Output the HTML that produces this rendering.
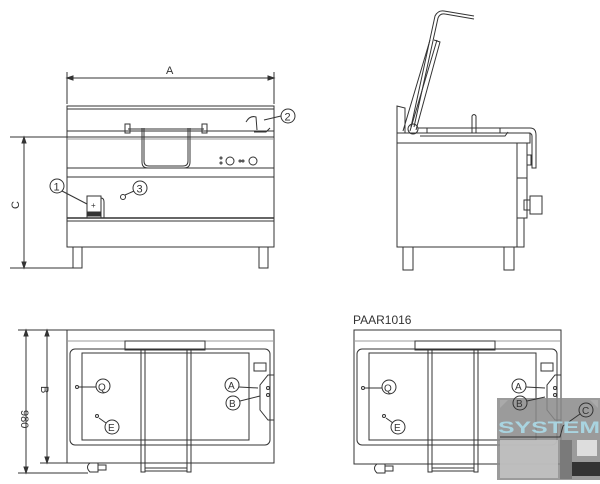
<!DOCTYPE html>
<html><head><meta charset="utf-8"><style>
html,body{margin:0;padding:0;background:#fff;}
svg{display:block;}
text{font-family:"Liberation Sans",sans-serif;fill:#333;}
</style></head><body>
<svg width="600" height="484" viewBox="0 0 600 484" xmlns="http://www.w3.org/2000/svg">
<g fill="none" stroke="#333" stroke-width="1">
<!-- FRONT VIEW -->
<line x1="67" y1="72" x2="67" y2="104"/><line x1="274" y1="72" x2="274" y2="104"/>
<line x1="67" y1="78" x2="274" y2="78"/>
<path d="M67 78 l6 -2 v4z M274 78 l-6 -2 v4z" fill="#333"/>
<rect x="67" y="106" width="207" height="141"/>
<line x1="67" y1="109" x2="274" y2="109"/>
<line x1="67" y1="131" x2="274" y2="131"/>
<line x1="67" y1="137" x2="274" y2="137"/>
<line x1="82" y1="131" x2="250" y2="131"/>
<line x1="67" y1="139" x2="274" y2="139" stroke="#999"/>
<line x1="67" y1="168" x2="274" y2="168"/>
<line x1="67" y1="177" x2="274" y2="177"/>
<line x1="67" y1="218" x2="274" y2="218" stroke-width="1.5"/>
<line x1="67" y1="221" x2="274" y2="221"/>
<rect x="125" y="124" width="5" height="9"/><rect x="202" y="124" width="5" height="9"/>
<line x1="128" y1="129" x2="204" y2="129"/>
<path d="M142 128 V162 Q142 168 148 168 H184 Q190 168 190 162 V128"/>
<path d="M144 128 V161 Q144 166 149 166 H183 Q188 166 188 161 V128"/>
<circle cx="230" cy="161" r="4"/><circle cx="253" cy="161" r="4"/>
<circle cx="240" cy="161" r="1"/><circle cx="243" cy="161" r="1"/>
<circle cx="221" cy="158" r="1"/><circle cx="221" cy="163" r="1"/>
<path d="M246 122 Q250 115 256 117 L257 130"/>
<path d="M254 132 h12 l4 -4" />
<line x1="264" y1="120" x2="281" y2="116"/>
<circle cx="288" cy="116" r="7"/>
<text x="284.5" y="120.5" font-size="11" stroke="none">2</text>
<circle cx="57" cy="186" r="7"/>
<text x="53.5" y="190.5" font-size="11" stroke="none">1</text>
<line x1="62" y1="191" x2="87" y2="204"/>
<rect x="87" y="196" width="14" height="22"/>
<rect x="88" y="212" width="12" height="4" fill="#333"/>
<path d="M101 198 q3 0 3 4 v16"/>
<text x="91" y="208" font-size="8" stroke="none">+</text>
<circle cx="123" cy="197" r="2.5"/>
<line x1="125" y1="195" x2="134" y2="191"/>
<circle cx="140" cy="188" r="7"/>
<text x="136.5" y="192.5" font-size="11" stroke="none">3</text>
<rect x="73" y="247" width="9" height="21"/><rect x="259" y="247" width="9" height="21"/>
<line x1="10" y1="137" x2="67" y2="137"/><line x1="10" y1="268" x2="73" y2="268"/>
<line x1="24" y1="137" x2="24" y2="268"/>
<path d="M24 137 l-2 6 h4z M24 268 l-2 -6 h4z" fill="#333"/>
<text x="0" y="0" font-size="11" stroke="none" transform="translate(19,209) rotate(-90)">C</text>
<text x="166" y="74" font-size="11" stroke="none">A</text>

<!-- SIDE VIEW -->
<rect x="397" y="143" width="120" height="104"/>
<rect x="397" y="133" width="133" height="10"/>
<path d="M397 133 V106 L405 108 V133"/>
<path d="M403 131 L430 40 M410 131 L437 40 M434 40 L440 42 L416 130"/>
<path d="M411 127 L435 16 Q438 10 444 11 L474 16"/>
<path d="M414 127 L438 18 Q440 13 445 14 L474 19"/>
<circle cx="413" cy="129" r="5"/>
<path d="M418 128 H530 Q536 128 536 135 V168 H532 V136 Q532 133 528 133"/>
<path d="M420 136 H505 L508 132"/>
<line x1="427" y1="133" x2="427" y2="128"/><line x1="500" y1="133" x2="500" y2="128"/>
<path d="M472 133 V116 q2 -3 4 0 V133"/>
<rect x="517" y="143" width="10" height="35"/>
<rect x="517" y="178" width="10" height="40"/>
<rect x="517" y="218" width="7" height="29"/>
<rect x="527" y="155" width="4" height="10"/>
<rect x="530" y="196" width="12" height="18"/><rect x="524" y="200" width="6" height="10"/>
<rect x="403" y="247" width="10" height="23"/><rect x="504" y="247" width="10" height="23"/>

<!-- TOP VIEW LEFT -->
<rect x="67" y="330" width="207" height="133"/>
<line x1="67" y1="341" x2="274" y2="341" stroke="#999"/>
<rect x="70" y="349" width="200" height="96" rx="5"/>
<rect x="82" y="353" width="167" height="87"/>
<rect x="125" y="341" width="80" height="9"/>
<rect x="141" y="350" width="4" height="122"/><rect x="187" y="350" width="4" height="122"/>
<line x1="145" y1="468" x2="187" y2="468"/><line x1="145" y1="471" x2="187" y2="471"/>
<path d="M274 375 h-6 l-8 10 v25 l8 10 h6"/>
<rect x="254" y="363" width="12" height="8"/>
<circle cx="77" cy="387" r="1.5"/><line x1="79" y1="387" x2="96" y2="387"/>
<circle cx="103" cy="386" r="7"/><text x="98" y="390.5" font-size="10" stroke="none">Q</text>
<circle cx="97" cy="416" r="1.5"/><line x1="99" y1="418" x2="106" y2="423"/>
<circle cx="112" cy="427" r="7"/><text x="108" y="431" font-size="10" stroke="none">E</text>
<circle cx="232" cy="385" r="7"/><text x="228" y="389" font-size="10" stroke="none">A</text>
<line x1="239" y1="387" x2="258" y2="388"/>
<circle cx="233" cy="403" r="7"/><text x="229" y="407" font-size="10" stroke="none">B</text>
<line x1="240" y1="401" x2="260" y2="396"/>
<circle cx="268" cy="388" r="1.5"/><circle cx="268" cy="395" r="1.5"/>
<path d="M90 463 q-5 4 0 9 h8 v-9z"/><rect x="98" y="465" width="8" height="5"/>
<line x1="18" y1="330" x2="67" y2="330"/><line x1="40" y1="463" x2="67" y2="463"/><line x1="18" y1="473" x2="88" y2="473"/>
<line x1="26" y1="330" x2="26" y2="473"/><line x1="47" y1="330" x2="47" y2="463"/>
<path d="M26 330 l-2 6 h4z M26 473 l-2 -6 h4z M47 330 l-2 6 h4z M47 463 l-2 -6 h4z" fill="#333"/>
<text x="0" y="0" font-size="11" stroke="none" transform="translate(21,410) rotate(90)">980</text>
<text x="0" y="0" font-size="11" stroke="none" transform="translate(41,386) rotate(90)">B</text>

<!-- TOP VIEW RIGHT -->
<g transform="translate(287,0)">
<rect x="67" y="330" width="207" height="134"/>
<line x1="67" y1="341" x2="274" y2="341" stroke="#999"/>
<rect x="70" y="349" width="200" height="96" rx="5"/>
<rect x="82" y="353" width="167" height="87"/>
<rect x="128" y="341" width="80" height="9"/>
<rect x="141" y="350" width="4" height="122"/><rect x="187" y="350" width="4" height="122"/>
<line x1="145" y1="468" x2="187" y2="468"/><line x1="145" y1="471" x2="187" y2="471"/>
<path d="M274 375 h-6 l-8 10 v25 l8 10 h6"/>
<rect x="254" y="363" width="12" height="8"/>
<circle cx="76" cy="388" r="1.5"/><line x1="78" y1="388" x2="95" y2="388"/>
<circle cx="102" cy="387" r="7"/><text x="97" y="391.5" font-size="10" stroke="none">Q</text>
<circle cx="97" cy="416" r="1.5"/><line x1="99" y1="418" x2="106" y2="423"/>
<circle cx="111" cy="427" r="7"/><text x="107" y="431" font-size="10" stroke="none">E</text>
<circle cx="232" cy="386" r="7"/><text x="228" y="390" font-size="10" stroke="none">A</text>
<line x1="239" y1="387" x2="258" y2="388"/>
<circle cx="268" cy="388" r="1.5"/><circle cx="268" cy="395" r="1.5"/>
<path d="M90 464 q-5 4 0 9 h8 v-9z"/><rect x="98" y="466" width="8" height="5"/>
</g>
<text x="353" y="324" font-size="12" stroke="none">PAAR1016</text>
</g>

<!-- WATERMARK -->
<rect x="497" y="398" width="103" height="82" fill="#8a8a8a" opacity="0.85"/>
<rect x="500" y="440" width="58" height="38" fill="#c4c4c4" opacity="0.85"/>
<rect x="560" y="440" width="12" height="39" fill="#7a7a7a"/>
<rect x="577" y="440" width="20" height="16" fill="#ddd"/>
<rect x="572" y="462" width="28" height="14" fill="#333"/>
<path d="M500 400 l8 0 l-8 8z M590 400 l8 0 v8z" fill="#aaa"/>
<g fill="none" stroke="#333">
<circle cx="520" cy="403" r="7"/>
<line x1="527" y1="401" x2="545" y2="397"/>
<circle cx="586" cy="410" r="7"/>
<path d="M580 414 L563 426 L560 437 H500"/>
</g>
<text x="516" y="407" font-size="10" stroke="none">B</text>
<text x="582" y="414" font-size="10" stroke="none">C</text>
<text x="498" y="433" font-size="17" font-weight="bold" textLength="102" lengthAdjust="spacingAndGlyphs" style="fill:#a9d4e0" stroke="none">SYSTEM</text>
</svg>
</body></html>
